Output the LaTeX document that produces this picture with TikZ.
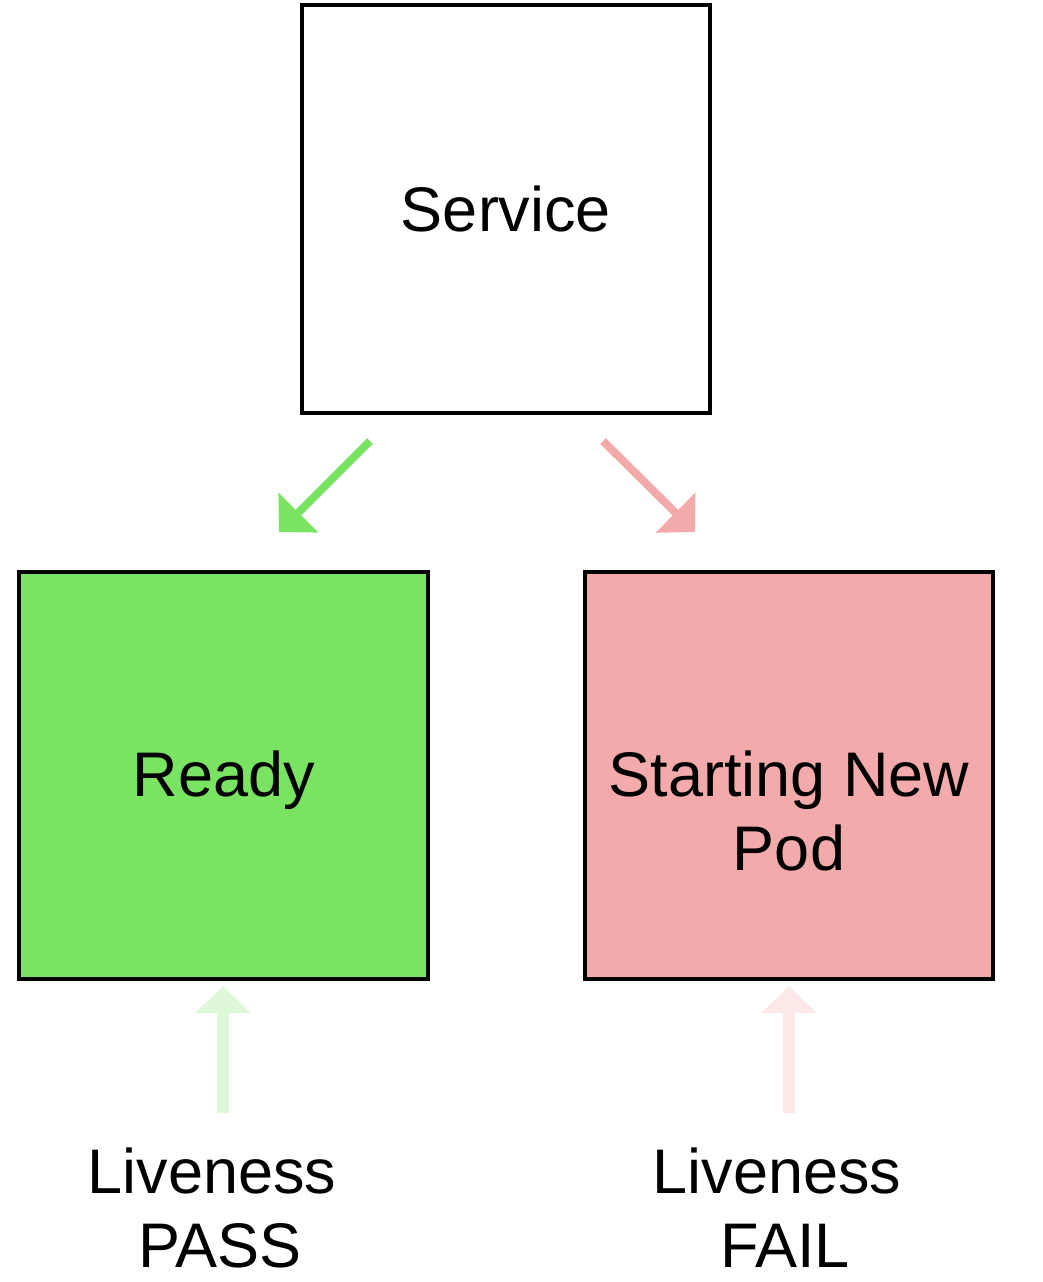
\documentclass[tikz,border=0pt]{standalone}
\usepackage{fontspec}
\setmainfont{Liberation Sans}
\usetikzlibrary{arrows.meta}
\definecolor{okgreen}{HTML}{7AE462}
\definecolor{badred}{HTML}{F2ABAA}
\definecolor{palegreen}{HTML}{E0F8DA}
\definecolor{palered}{HTML}{FDE8E8}
\begin{document}
\begin{tikzpicture}[x=1pt,y=-1pt,
  box/.style={draw=black,line width=3.5pt},
  lbl/.style={anchor=base,inner sep=0pt,font=\fontsize{63}{74}\selectfont},
  diag/.style={line width=8pt,-{Triangle[length=27.5pt,width=55pt]}},
  uparrow/.style={line width=12pt,-{Triangle[length=27pt,width=54pt]}}]
\useasboundingbox (0,0) rectangle (1042,1282);
\fill[white] (0,0) rectangle (1042,1282);
% boxes
\draw[box,fill=white] (302,5) rectangle (710,413);
\draw[box,fill=okgreen] (19,572) rectangle (428,979);
\draw[box,fill=badred] (585,572) rectangle (993,979);
\coordinate (svc) at (506,209);
% labels
\node[lbl] (service) at (506,231) {Service};
\node[lbl] (ready) at (224,796) {Ready};
\node[lbl] (start1) at (789,796) {Starting New};
\node[lbl] (start2) at (789,870) {Pod};
\node[lbl] (live1) at (212,1193) {Liveness};
\node[lbl] (pass) at (220,1267) {PASS};
\node[lbl] (live2) at (777,1193) {Liveness};
\node[lbl] (fail) at (785,1267) {FAIL};
% arrows
\coordinate (g0) at (370,441);
\coordinate (g1) at (279,532);
\coordinate (r0) at (603,441);
\coordinate (r1) at (695,532);
\draw[diag,okgreen] (g0) -- (g1);
\draw[diag,badred] (r0) -- (r1);
\coordinate (pg0) at (223,1113);
\coordinate (pg1) at (223,986);
\coordinate (pr0) at (789,1113);
\coordinate (pr1) at (789,986);
\draw[uparrow,palegreen] (pg0) -- (pg1);
\draw[uparrow,palered] (pr0) -- (pr1);
\end{tikzpicture}
\end{document}
